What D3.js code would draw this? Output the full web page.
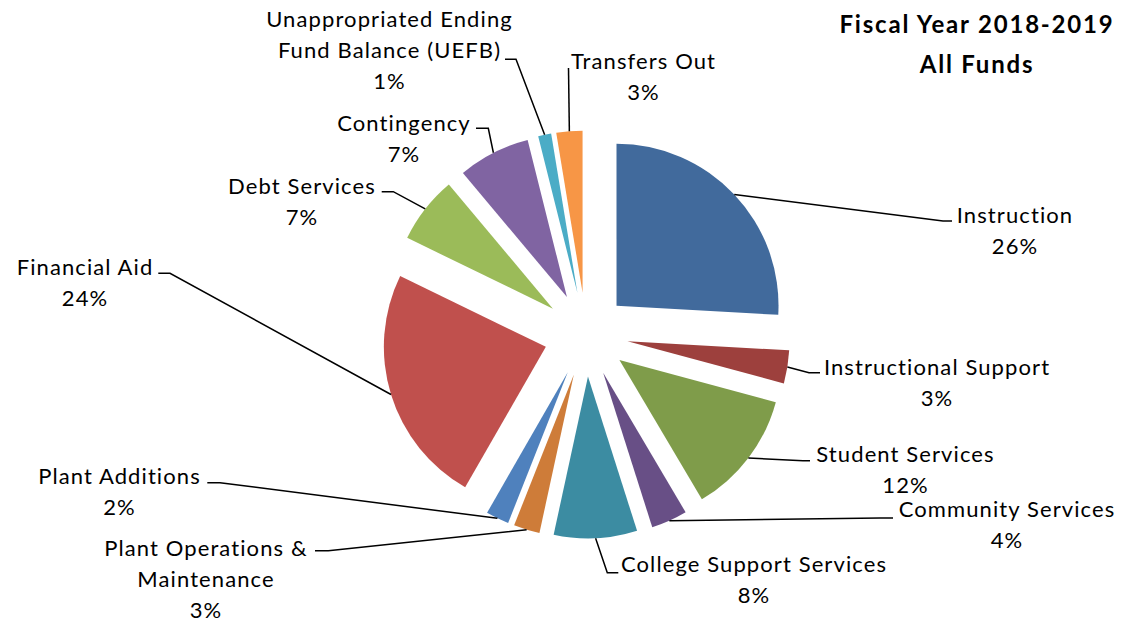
<!DOCTYPE html>
<html>
<head>
<meta charset="utf-8">
<script src="https://cdn.jsdelivr.net/npm/d3@7"></script>
<style>
  html, body { margin: 0; padding: 0; background: #fff; }
  svg { display: block; }
  text { font-family: Lato, "Open Sans", sans-serif; fill: #000; }
</style>
</head>
<body>
<svg id="chart" width="1123" height="623"></svg>
<script>
// Budget categories, clockwise from 12 o'clock
const categories = [
  "Instruction",
  "Instructional Support",
  "Student Services",
  "Community Services",
  "College Support Services",
  "Plant Operations & Maintenance",
  "Plant Additions",
  "Financial Aid",
  "Debt Services",
  "Contingency",
  "Unappropriated Ending Fund Balance (UEFB)",
  "Transfers Out"
];

// Share of all funds (percent)
const values = [25.9, 3.3, 12.3, 3.6, 8.3, 2.6, 2.3, 23.9, 6.7, 7.2, 1.3, 2.6];

// How each category name is broken onto lines in its label
const labelLines = [
  ["Instruction"],
  ["Instructional Support"],
  ["Student Services"],
  ["Community Services"],
  ["College Support Services"],
  ["Plant Operations &", "Maintenance"],
  ["Plant Additions"],
  ["Financial Aid"],
  ["Debt Services"],
  ["Contingency"],
  ["Unappropriated Ending", "Fund Balance (UEFB)"],
  ["Transfers Out"]
];

const sliceColors = [
  "#416a9c", "#9d403d", "#7f9c4a", "#684f86", "#3c8ca2", "#ce7c39",
  "#4f81bd", "#c0504d", "#9bbb59", "#8064a2", "#4bacc6", "#f79646"
];

const titleLines = ["Fiscal Year 2018-2019", "All Funds"];

// Label placement: text centre x, first baseline y, leader elbow (x, y), leader end x
const labelLayout = [
  { x: 1015,  y: 223,   ex: 943,   ey: 221,   tx: 952 },
  { x: 937,   y: 375,   ex: 809,   ey: 372.7, tx: 820 },
  { x: 905.5, y: 462,   ex: 803,   ey: 460.7, tx: 810 },
  { x: 1007,  y: 517,   ex: 880,   ey: 518,   tx: 893 },
  { x: 754,   y: 572,   ex: 607.3, ey: 572.7, tx: 618.3 },
  { x: 206,   y: 556,   ex: 328.3, ey: 550.7, tx: 315 },
  { x: 119.5, y: 483.5, ex: 220,   ey: 482.7, tx: 207.3 },
  { x: 85,    y: 274.5, ex: 170,   ey: 273.3, tx: 158.3 },
  { x: 302,   y: 193.5, ex: 393.3, ey: 191.7, tx: 381.7 },
  { x: 404,   y: 131,   ex: 488.3, ey: 128.3, tx: 476 },
  { x: 389.5, y: 26.5,  ex: 516,   ey: 59.3,  tx: 505 },
  { x: 643.5, y: 68.5,  ex: 568.5, ey: 68,    tx: 568.5 }
];

const svg = d3.select("#chart");
const cx = 586, cy = 334.5;      // pie centre
const R = 162;                   // slice radius
const explode = 42;              // outward offset of every slice
const lineH = 31;

const total = d3.sum(values);
const pct = d3.format(".0%");

const pie = d3.pie().sort(null).value(d => d).startAngle(0).endAngle(2 * Math.PI);
const arcs = pie(values);
const arc = d3.arc().innerRadius(0).outerRadius(R);

const mid = d => (d.startAngle + d.endAngle) / 2;

// Slices
const g = svg.append("g").attr("transform", `translate(${cx},${cy})`);
g.selectAll("path.slice")
  .data(arcs)
  .join("path")
  .attr("class", "slice")
  .attr("d", arc)
  .attr("fill", (d, i) => sliceColors[i])
  .attr("transform", d => {
    const a = mid(d);
    return `translate(${explode * Math.sin(a)},${-explode * Math.cos(a)})`;
  });

// Leader lines: from the outer arc midpoint to an elbow, then across to the label
svg.append("g").selectAll("polyline")
  .data(arcs)
  .join("polyline")
  .attr("fill", "none")
  .attr("stroke", "#000")
  .attr("stroke-width", 1.5)
  .attr("points", (d, i) => {
    const a = mid(d);
    const sx = cx + (explode + R) * Math.sin(a);
    const sy = cy - (explode + R) * Math.cos(a);
    const L = labelLayout[i];
    return [[sx, sy], [L.ex, L.ey], [L.tx, L.ey]].map(p => p.join(",")).join(" ");
  });

// Data labels: category name lines plus rounded percentage
const labels = svg.append("g")
  .attr("font-size", 22)
  .attr("letter-spacing", 1.1)
  .attr("text-anchor", "middle");

arcs.forEach((d, i) => {
  const L = labelLayout[i];
  const lines = labelLines[i].concat([pct(d.data / total)]);
  const t = labels.append("text").attr("x", L.x).attr("y", L.y);
  lines.forEach((s, k) => {
    t.append("tspan").attr("x", L.x).attr("y", L.y + k * lineH).text(s);
  });
});

// Title
const title = svg.append("text")
  .attr("text-anchor", "middle")
  .attr("font-size", 24)
  .attr("font-weight", "bold")
  .attr("letter-spacing", 1.8);
titleLines.forEach((s, k) => {
  title.append("tspan").attr("x", 977).attr("y", 33 + k * 40).text(s);
});
</script>
</body>
</html>
